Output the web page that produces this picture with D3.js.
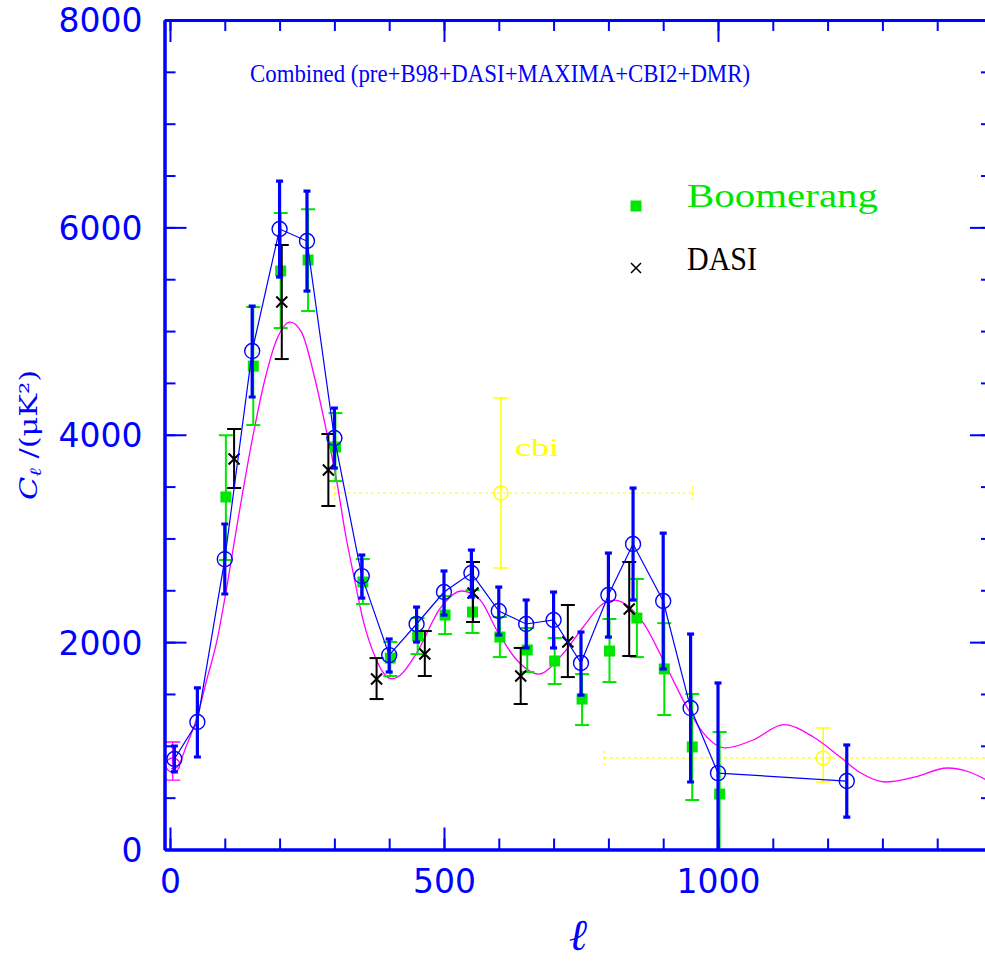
<!DOCTYPE html>
<html>
<head>
<meta charset="utf-8">
<script src="https://cdn.jsdelivr.net/npm/d3@7"></script>
<style>
  html, body { margin: 0; padding: 0; background: #fff; }
  svg { display: block; }
</style>
</head>
<body>
<script>
// ---------------- data ----------------
const combinedL  = [8, 50, 100, 150, 200, 250, 300, 350, 400, 450, 500, 550, 600, 650, 700, 750, 800, 845, 900, 950, 1000, 1235];
const combinedC  = [873, 1230, 2800, 4807, 5984, 5868, 3968, 2637, 1875, 2175, 2483, 2666, 2300, 2175, 2214, 1799, 2454, 2946, 2396, 1364, 737, 660];
const combinedLo = [748, 892, 2464, 4364, 5521, 5386, 3679, 2425, 1712, 2001, 2261, 2435, 2069, 1944, 1944, 1489, 2049, 2406, 1741, 651, -150, 313];
const combinedHi = [998, 1558, 3139, 5241, 6447, 6350, 4257, 2840, 2030, 2338, 2686, 2888, 2531, 2406, 2483, 2097, 2859, 3486, 3051, 2078, 1606, 1008];

const boomL  = [102, 152, 202, 252, 302, 352, 402, 452, 502, 552, 602, 652, 702, 752, 802, 852, 902, 953, 1003];
const boomC  = [3400, 4662, 5579, 5685, 3882, 2580, 1846, 2058, 2261, 2290, 2049, 1924, 1818, 1451, 1914, 2232, 1741, 989, 535];
const boomLo = [2792, 4093, 5029, 5193, 3553, 2368, 1673, 1885, 2078, 2088, 1856, 1712, 1596, 1200, 1615, 1856, 1297, 477, -150];
const boomHi = [3996, 5231, 6138, 6176, 4209, 2801, 2001, 2232, 2444, 2502, 2242, 2136, 2040, 1692, 2223, 2609, 2183, 1500, 1133];

const dasiL  = [117, 204, 289, 377, 465, 553, 640, 726, 838];
const dasiC  = [3766, 5280, 3660, 1644, 1885, 2474, 1673, 2001, 2319];
const dasiLo = [3486, 4730, 3313, 1451, 1673, 2194, 1403, 1663, 1866];
const dasiHi = [4055, 5829, 4007, 1846, 2107, 2773, 1944, 2358, 2773];

const cbiL    = [604, 1192];
const cbiC    = [3438, 883];
const cbiLo   = [2715, 651];
const cbiHi   = [4354, 1172];
const cbiLmin = [301, 792];
const cbiLmax = [954, 1500];

const dmrL = [5], dmrC = [815], dmrLo = [670], dmrHi = [1037];

const theoryL = [2, 12, 30, 49, 67, 86, 100, 124, 150, 173, 195, 219, 240, 265, 285, 304, 320, 335, 353, 375, 390, 405, 420, 450, 493, 532, 566, 596, 633, 672, 718, 754, 790, 812, 840, 864, 906, 943, 973, 1013, 1064, 1120, 1174, 1223, 1260, 1305, 1360, 1418, 1460, 1500];
const theoryC = [780, 790, 1000, 1268, 1635, 2021, 2420, 3177, 3950, 4528, 4920, 5087, 4990, 4528, 4050, 3560, 3050, 2650, 2200, 1850, 1700, 1645, 1680, 1894, 2325, 2493, 2406, 2117, 1827, 1692, 1894, 2146, 2370, 2406, 2330, 2183, 1762, 1376, 1125, 980, 1056, 1205, 1085, 892, 740, 651, 700, 786, 745, 640];

const xMinorTicks = d3.range(0, 1501, 100);
const xMajorTicks = [0, 500, 1000, 1500];
const xTickLabels = [0, 500, 1000];
const yMinorTicks = d3.range(0, 8001, 500);
const yMajorTicks = [0, 2000, 4000, 6000, 8000];

const titleText = "Combined (pre+B98+DASI+MAXIMA+CBI2+DMR)";
const legendNames = ["Boomerang", "DASI"];

// ---------------- setup ----------------
const W = 985, H = 961;
const BLUE = "#0000ff", GREEN = "#00e600", BLACK = "#000000", YEL = "#ffff00", MAG = "#ff00ff";
const SANS = "'DejaVu Sans', sans-serif", SERIF = "'DejaVu Serif', serif", TIMES = "'Liberation Serif', serif";

const x = d3.scaleLinear().domain([-10, 1500]).range([164.5, 992]);
const y = d3.scaleLinear().domain([0, 8000]).range([849.5, 20]);

const svg = d3.select("body").append("svg").attr("width", W).attr("height", H);
svg.append("rect").attr("width", W).attr("height", H).attr("fill", "#fff");

svg.append("clipPath").attr("id", "plotclip").append("rect")
  .attr("x", x.range()[0]).attr("y", y.range()[1])
  .attr("width", x.range()[1] - x.range()[0]).attr("height", y.range()[0] - y.range()[1]);

const plot = svg.append("g").attr("clip-path", "url(#plotclip)");

function zip(L, C, Lo, Hi) { return L.map((l, i) => ({l, c: C[i], lo: Lo[i], hi: Hi[i]})); }

function errorBars(g, data, color, width, capW) {
  const gg = g.append("g").attr("stroke", color).attr("stroke-width", width).attr("fill", "none");
  data.forEach(d => {
    gg.append("line").attr("x1", x(d.l)).attr("x2", x(d.l)).attr("y1", y(d.lo)).attr("y2", y(d.hi));
    gg.append("line").attr("x1", x(d.l) - capW / 2).attr("x2", x(d.l) + capW / 2).attr("y1", y(d.hi)).attr("y2", y(d.hi));
    if (d.lo > 0)
      gg.append("line").attr("x1", x(d.l) - capW / 2).attr("x2", x(d.l) + capW / 2).attr("y1", y(d.lo)).attr("y2", y(d.lo));
  });
}

// CBI (yellow)
const cbi = cbiL.map((l, i) => ({l, c: cbiC[i], lo: cbiLo[i], hi: cbiHi[i], lmin: cbiLmin[i], lmax: cbiLmax[i]}));
const gc = plot.append("g");
cbi.forEach(d => {
  gc.append("line").attr("x1", x(d.lmin)).attr("x2", x(d.lmax)).attr("y1", y(d.c)).attr("y2", y(d.c))
    .attr("stroke", YEL).attr("stroke-width", 1.2).attr("stroke-dasharray", "3,3");
  [d.lmin, d.lmax].forEach(e => {
    gc.append("line").attr("x1", x(e)).attr("x2", x(e)).attr("y1", y(d.c) - 7).attr("y2", y(d.c) + 7)
      .attr("stroke", YEL).attr("stroke-width", 1.2).attr("stroke-dasharray", "3,3");
  });
});
errorBars(gc, cbi, YEL, 1.5, 15);
gc.selectAll("circle.cbi").data(cbi).join("circle").attr("class", "cbi")
  .attr("cx", d => x(d.l)).attr("cy", d => y(d.c)).attr("r", 7)
  .attr("fill", "none").attr("stroke", YEL).attr("stroke-width", 1.4);

// theory curve
plot.append("path")
  .datum(theoryL.map((l, i) => [l, theoryC[i]]))
  .attr("d", d3.line().x(d => x(d[0])).y(d => y(d[1])).curve(d3.curveMonotoneX))
  .attr("fill", "none").attr("stroke", MAG).attr("stroke-width", 1.3);

// DMR-like magenta point
const dmr = zip(dmrL, dmrC, dmrLo, dmrHi);
errorBars(plot, dmr, MAG, 1.3, 15);
plot.selectAll("circle.dmr").data(dmr).join("circle").attr("class", "dmr")
  .attr("cx", d => x(d.l)).attr("cy", d => y(d.c)).attr("r", 7)
  .attr("fill", "none").attr("stroke", MAG).attr("stroke-width", 1.3);

// Boomerang (green)
const boom = zip(boomL, boomC, boomLo, boomHi);
errorBars(plot, boom, GREEN, 2, 14);
plot.selectAll("rect.boom").data(boom).join("rect").attr("class", "boom")
  .attr("x", d => x(d.l) - 5.5).attr("y", d => y(d.c) - 5.5).attr("width", 11).attr("height", 11)
  .attr("fill", GREEN);

// DASI (black)
const dasi = zip(dasiL, dasiC, dasiLo, dasiHi);
errorBars(plot, dasi, BLACK, 2, 14);
function cross(g, cx, cy, s, color, w) {
  g.append("path").attr("d", `M${cx - s},${cy - s}L${cx + s},${cy + s}M${cx - s},${cy + s}L${cx + s},${cy - s}`)
    .attr("stroke", color).attr("stroke-width", w || 2).attr("fill", "none");
}
dasi.forEach(d => cross(plot, x(d.l), y(d.c), 5.5, BLACK));

// Combined (blue)
const comb = zip(combinedL, combinedC, combinedLo, combinedHi);
plot.append("path").datum(comb)
  .attr("d", d3.line().x(d => x(d.l)).y(d => y(d.c)))
  .attr("fill", "none").attr("stroke", BLUE).attr("stroke-width", 1.2);
errorBars(plot, comb, BLUE, 3.2, 7);
plot.selectAll("circle.comb").data(comb).join("circle").attr("class", "comb")
  .attr("cx", d => x(d.l)).attr("cy", d => y(d.c)).attr("r", 7.5)
  .attr("fill", "none").attr("stroke", BLUE).attr("stroke-width", 1.4);

// ---------------- axes ----------------
function styleAxis(g, showLabels) {
  g.select(".domain").attr("stroke", BLUE).attr("stroke-width", 3);
  g.selectAll(".tick line").attr("stroke", BLUE).attr("stroke-width", 2);
  if (!showLabels) g.selectAll(".tick text").remove();
}
// bottom
svg.append("g").attr("transform", `translate(0,${y(0)})`)
  .call(d3.axisBottom(x).tickValues(xMinorTicks).tickSize(-11).tickSizeOuter(0).tickFormat(""))
  .call(g => styleAxis(g, false));
const bMaj = svg.append("g").attr("transform", `translate(0,${y(0)})`)
  .call(d3.axisBottom(x).tickValues(xMajorTicks).tickSize(-22).tickSizeOuter(0)
    .tickPadding(20).tickFormat(d => xTickLabels.includes(d) ? d3.format("d")(d) : ""))
  .call(g => styleAxis(g, true));
bMaj.selectAll(".tick text").attr("fill", BLUE).attr("font-family", SANS).attr("font-size", 33);
// top
svg.append("g").attr("transform", `translate(0,${y(8000)})`)
  .call(d3.axisTop(x).tickValues(xMinorTicks).tickSize(-11).tickSizeOuter(0).tickFormat(""))
  .call(g => styleAxis(g, false));
svg.append("g").attr("transform", `translate(0,${y(8000)})`)
  .call(d3.axisTop(x).tickValues(xMajorTicks).tickSize(-22).tickSizeOuter(0).tickFormat(""))
  .call(g => styleAxis(g, false));
// left
svg.append("g").attr("transform", `translate(${x(-10)},0)`)
  .call(d3.axisLeft(y).tickValues(yMinorTicks).tickSize(-11).tickSizeOuter(0).tickFormat(""))
  .call(g => styleAxis(g, false));
const lMaj = svg.append("g").attr("transform", `translate(${x(-10)},0)`)
  .call(d3.axisLeft(y).tickValues(yMajorTicks).tickSize(-22).tickSizeOuter(0).tickPadding(22).tickFormat(d3.format("d")))
  .call(g => styleAxis(g, true));
lMaj.selectAll(".tick text").attr("fill", BLUE).attr("font-family", SANS).attr("font-size", 33).attr("dy", "0.36em");
// right
svg.append("g").attr("transform", `translate(${x(1500)},0)`)
  .call(d3.axisRight(y).tickValues(yMinorTicks).tickSize(-11).tickSizeOuter(0).tickFormat(""))
  .call(g => styleAxis(g, false));
svg.append("g").attr("transform", `translate(${x(1500)},0)`)
  .call(d3.axisRight(y).tickValues(yMajorTicks).tickSize(-22).tickSizeOuter(0).tickFormat(""))
  .call(g => styleAxis(g, false));

// ---------------- texts ----------------
svg.append("text").attr("x", 250).attr("y", 82)
  .attr("font-family", TIMES).attr("font-size", 25).attr("fill", BLUE)
  .attr("textLength", 500).attr("lengthAdjust", "spacingAndGlyphs")
  .text(titleText);

// legend
const legY = [207, 270];
const legColors = [GREEN, BLACK];
svg.append("rect").attr("x", 636 - 5.5).attr("y", legY[0] - 6.5).attr("width", 11).attr("height", 11).attr("fill", GREEN);
cross(svg, 636, legY[1] - 2, 5, BLACK, 1.5);
legendNames.forEach((n, i) => {
  svg.append("text").attr("x", 687).attr("y", legY[i])
    .attr("font-family", TIMES).attr("font-size", 33).attr("fill", legColors[i])
    .attr("textLength", i === 0 ? 191 : 70).attr("lengthAdjust", "spacingAndGlyphs")
    .text(n);
});

// cbi label
svg.append("text").attr("x", 515).attr("y", 456)
  .attr("font-family", TIMES).attr("font-size", 25).attr("fill", YEL)
  .attr("textLength", 44).attr("lengthAdjust", "spacingAndGlyphs")
  .text("cbi");

// x-axis label
svg.append("text").attr("x", 578).attr("y", 950).attr("text-anchor", "middle")
  .attr("font-family", SERIF).attr("font-style", "italic").attr("font-size", 44).attr("fill", BLUE)
  .text("ℓ");

// y-axis label
const yl = svg.append("text").attr("transform", "translate(37,435) rotate(-90)")
  .attr("text-anchor", "middle").attr("font-family", SERIF).attr("font-size", 24).attr("fill", BLUE)
  .attr("textLength", 130).attr("lengthAdjust", "spacingAndGlyphs");
yl.append("tspan").attr("font-style", "italic").text("C");
yl.append("tspan").attr("font-style", "italic").attr("font-size", 16).attr("dy", 4).text("ℓ");
yl.append("tspan").attr("dy", -4).text(" /(μK²)");
</script>
</body>
</html>
